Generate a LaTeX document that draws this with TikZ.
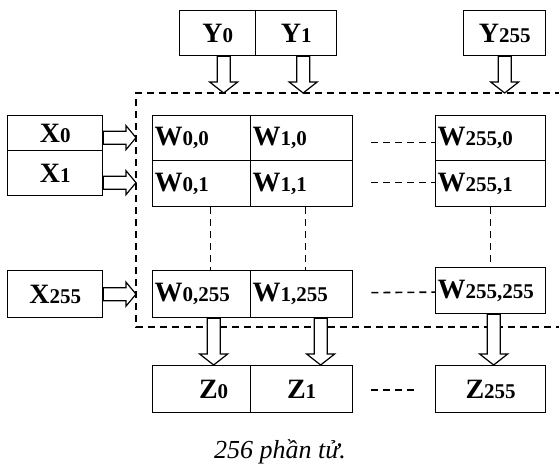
\documentclass[tikz,border=0pt]{standalone}
\usepackage{fontspec}
\setmainfont{Liberation Serif}
\usetikzlibrary{calc}
% letter followed by its (non-lowered) smaller index
\newcommand{\cellname}[2]{#1{\fontsize{21}{21}\selectfont #2}}
\begin{document}
\begin{tikzpicture}[x=1pt,y=-1pt,
  box/.style={draw, line width=1.3pt, inner sep=0pt, anchor=north west,
    font=\fontsize{28}{28}\selectfont\bfseries},
  wcell/.style={box, align=left, inner xsep=2pt},
  dashline/.style={line width=1.6pt, dash pattern=on 7pt off 5pt},
  hollow/.style={draw, line width=1.2pt, fill=white},
  % hollow block arrow pointing down (only the x of the start is used)
  fatdown/.style={hollow, to path={let \p1=(\tikztostart), \p2=(\tikztotarget) in
    (\x1-6.5pt,\y1) -- (\x1-6.5pt,\y2+11pt) -- (\x1-14pt,\y2+11pt) -- (\x1,\y2)
    -- (\x1+14pt,\y2+11pt) -- (\x1+6.5pt,\y2+11pt) -- (\x1+6.5pt,\y1) -- cycle}},
  % hollow block arrow pointing right (only the y of the start is used)
  fatright/.style={hollow, to path={let \p1=(\tikztostart), \p2=(\tikztotarget) in
    (\x1,\y1+6.5pt) -- (\x2-10pt,\y1+6.5pt) -- (\x2-10pt,\y1+12pt) -- (\x2,\y1)
    -- (\x2-10pt,\y1-12pt) -- (\x2-10pt,\y1-6.5pt) -- (\x1,\y1-6.5pt) -- cycle}},
]
\useasboundingbox (0,0) rectangle (559,469);

% inputs Y
\node[box, minimum width=76pt, minimum height=45pt] (y0) at (179,10) {\cellname{Y}{0}};
\node[box, minimum width=81pt, minimum height=45pt] (y1) at (255,10) {\cellname{Y}{1}};
\node[box, minimum width=82pt, minimum height=45pt] (y255) at (463,10) {\cellname{Y}{255}};

% inputs X
\node[box, minimum width=95pt, minimum height=35pt] (x0) at (7,115) {\cellname{X}{0}};
\node[box, minimum width=95pt, minimum height=45pt] (x1) at (7,150) {\cellname{X}{1}};
\node[box, minimum width=95pt, minimum height=47pt] (x255) at (7,270) {\cellname{X}{255}};

% weight cells
\node[wcell, text width=94pt, minimum height=45pt] (w00) at (152,115) {\cellname{W}{0,0}};
\node[wcell, text width=98pt, minimum height=45pt] (w10) at (250,115) {\cellname{W}{1,0}};
\node[wcell, text width=94pt, minimum height=46pt] (w01) at (152,160) {\cellname{W}{0,1}};
\node[wcell, text width=98pt, minimum height=46pt] (w11) at (250,160) {\cellname{W}{1,1}};
\node[wcell, text width=106pt, minimum height=45pt] (wn0) at (435,115) {\cellname{W}{255,0}};
\node[wcell, text width=106pt, minimum height=46pt] (wn1) at (435,160) {\cellname{W}{255,1}};
\node[wcell, text width=94pt, minimum height=47pt] (w0n) at (152,270) {\cellname{W}{0,255}};
\node[wcell, text width=98pt, minimum height=47pt] (w1n) at (250,270) {\cellname{W}{1,255}};
\node[wcell, text width=106pt, minimum height=46pt] (wnn) at (435,267) {\cellname{W}{255,255}};

% outputs Z
\node[box, minimum width=98pt, minimum height=47pt] (z0) at (152,365) {\hspace*{24pt}\cellname{Z}{0}};
\node[box, minimum width=102pt, minimum height=47pt] (z1) at (250,365) {\cellname{Z}{1}};
\node[box, minimum width=110pt, minimum height=47pt] (z255) at (435,365) {\cellname{Z}{255}};

% dashed frame around the array (open to the right)
\coordinate (ftl) at (136,93);
\coordinate (fbl) at (136,327);
\coordinate (ftr) at (562,93);
\coordinate (fbr) at (562,327);
\draw[dashline] (ftr) -- (ftl) -- (fbl) -- (fbr);

% elisions between columns and rows
\draw[dashline] ($(w10.east)+(18,4.5)$) -- ($(wn0.west)+(0,4.5)$);
\draw[dashline] ($(w11.east)+(18,-1)$) -- ($(wn1.west)+(0,-1)$);
\draw[dashline] ($(w1n.east)+(18,-1.5)$) -- ($(wnn.west)+(0,1.5)$);
\draw[dashline] ($(w01.south)+(9,0)$) -- ($(w0n.north)+(9,0)$);
\draw[dashline] ($(w11.south)+(4,0)$) -- ($(w1n.north)+(4,0)$);
\draw[dashline] (wn1.south) -- (wnn.north);
\draw[dashline] ($(z1.east)+(18,1)$) -- ($(z255.west)+(-17,1)$);

% Y inputs into the array
\draw[fatdown] ($(y0.south)+(6,0)$) to (ftl);
\draw[fatdown] ($(y1.south)+(7,0)$) to (ftl);
\draw[fatdown] (y255.south) to (ftl);

% X inputs into the array
\draw[fatright] ($(x0.east)+(0,4.5)$) to (ftl);
\draw[fatright] ($(x1.east)+(0,9.5)$) to (ftl);
\draw[fatright] (x255.east) to (ftl);

% array outputs to Z
\draw[fatdown] ($(w0n.south)+(12,0)$) to (z0.north);
\draw[fatdown] ($(w1n.south)+(19,0)$) to (z1.north);
\draw[fatdown] ($(wnn.south)+(3,0)$) to (z255.north);

% caption
\node[font=\fontsize{26}{26}\selectfont\itshape] (cap) at (280,452) {256 phần tử.};
\end{tikzpicture}
\end{document}
